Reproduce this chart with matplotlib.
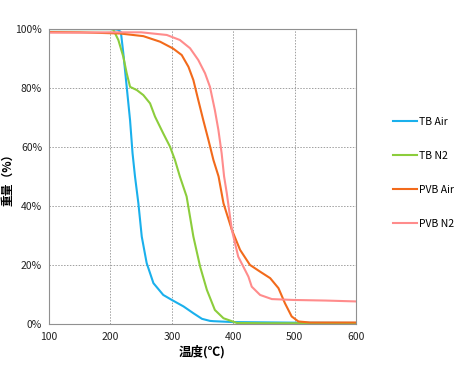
import matplotlib
matplotlib.use("Agg")
import matplotlib.pyplot as plt
from matplotlib.ticker import FuncFormatter

plt.rcParams['font.family'] = ['Noto Sans CJK JP', 'DejaVu Sans']

# TG curves (temperature in C, weight in %)
tb_air_t = [100, 150, 200, 212, 217, 221, 226.5, 232, 236, 240, 245.5, 251, 259, 270, 286, 300, 319, 335, 349, 362, 368, 400, 450, 500, 600]
tb_air_w = [100, 100, 100, 99.8, 99, 91.8, 80.4, 69, 57.9, 50, 40.9, 29.6, 20.6, 13.8, 9.8, 8.1, 5.9, 3.6, 1.7, 1.0, 0.9, 0.6, 0.5, 0.4, 0.3]

tb_n2_t = [100, 150, 200, 204.7, 212.9, 221, 226.5, 232, 243, 253.6, 264.5, 272.6, 286, 297, 305, 313, 324, 335, 346, 357, 370, 384, 405.7, 450, 500, 600]
tb_n2_w = [100, 100, 100, 99.8, 96.3, 90.6, 85, 80.4, 79.3, 77.6, 74.8, 70.3, 64.6, 60.1, 55.6, 50, 43.2, 29.6, 19.4, 11.5, 4.7, 1.9, 0.3, 0.2, 0.2, 0.2]

pvb_air_t = [100, 150, 183, 215.6, 253.6, 281, 302, 316, 327, 335, 343, 351, 359.5, 367.6, 376, 384, 397.6, 411, 427, 443.6, 460, 473.5, 484, 495, 506, 525, 600]
pvb_air_w = [99, 98.9, 98.7, 98.5, 97.6, 95.7, 93.4, 91.2, 87.2, 82.7, 75.9, 69.2, 62.4, 55.6, 50, 40.9, 31.9, 25.1, 20, 17.7, 15.5, 12.1, 7, 2.5, 0.8, 0.45, 0.45]

pvb_n2_t = [100, 150, 200, 250, 291.7, 313, 329.6, 343, 354, 362, 370, 375.7, 381, 385, 389.4, 397.6, 408, 424.6, 430, 443.6, 462.7, 498, 550, 600]
pvb_n2_w = [98.8, 98.8, 98.9, 98.9, 98, 96.3, 93.5, 89.5, 85, 80.4, 72.5, 65.8, 57.9, 50, 44.3, 31.9, 22.8, 16, 12.6, 9.8, 8.4, 8.1, 7.9, 7.6]

series = [
    ("TB Air", tb_air_t, tb_air_w, "#1ab0ec"),
    ("TB N2", tb_n2_t, tb_n2_w, "#8ccd3c"),
    ("PVB Air", pvb_air_t, pvb_air_w, "#f26a1b"),
    ("PVB N2", pvb_n2_t, pvb_n2_w, "#ff8c8c"),
]

fig = plt.figure(figsize=(4.62, 3.68), dpi=100)
ax = fig.add_axes([0.106, 0.120, 0.665, 0.801])

for name, t, w, c in series:
    ax.plot(t, w, color=c, lw=1.5, label=name, solid_joinstyle="round")

ax.set_xlim(100, 600)
ax.set_ylim(0, 100)
ax.set_xticks([100, 200, 300, 400, 500, 600])
ax.set_yticks([0, 20, 40, 60, 80, 100])
ax.yaxis.set_major_formatter(FuncFormatter(lambda v, p: f"{int(v)}%"))
ax.tick_params(length=0, labelsize=7.5, colors="#222222")
ax.tick_params(axis="y", pad=5)
ax.tick_params(axis="x", pad=6)
ax.grid(True, color="#a0a0a0", linestyle=(0, (1.5, 1.5)), lw=0.7)
for s in ax.spines.values():
    s.set_color("#909090")
    s.set_linewidth(0.8)

ax.set_xlabel("温度(℃)", fontsize=9, fontweight="bold", labelpad=2)
ax.set_ylabel("重量（%）", fontsize=8.5, fontweight="bold")
ax.yaxis.set_label_coords(-0.112, 0.5)

ax.legend(loc="center left", bbox_to_anchor=(1.09, 0.512), frameon=False,
          fontsize=7.5, handlelength=2.3, handletextpad=0.15, labelspacing=2.3)

fig.savefig("out.png", dpi=100)
